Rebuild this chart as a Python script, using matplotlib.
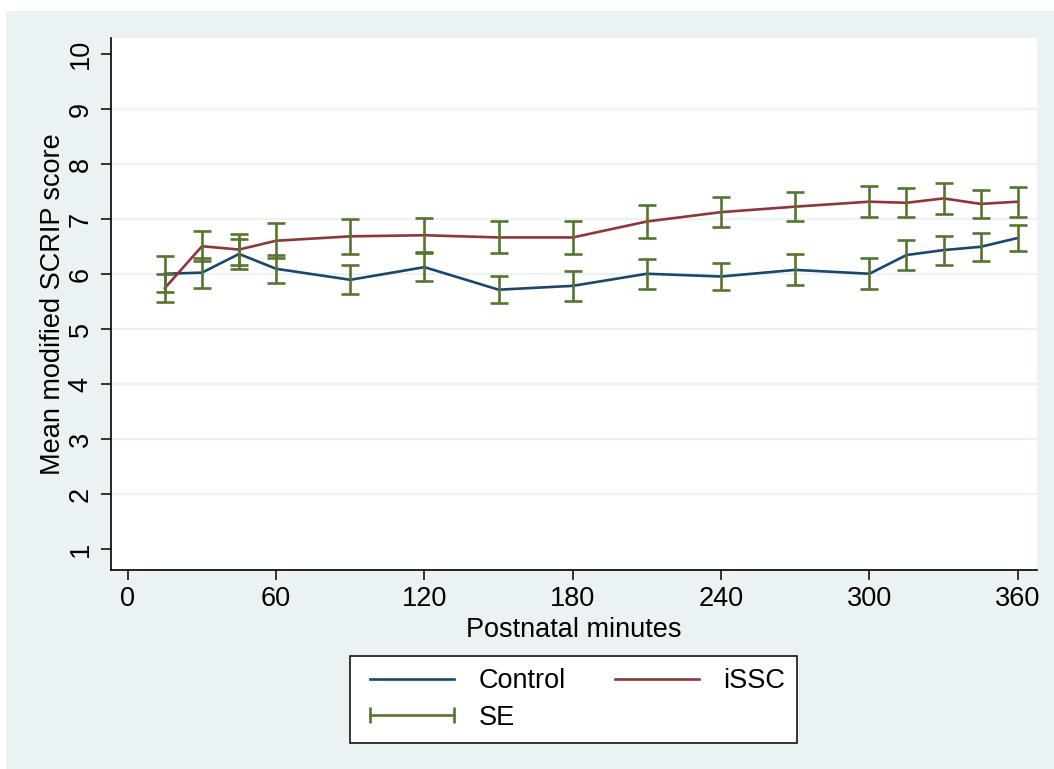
import matplotlib
matplotlib.use("Agg")
import matplotlib.pyplot as plt
from matplotlib.lines import Line2D
from matplotlib.patches import Rectangle

# mean modified SCRIP score per group, with standard errors
minutes = [15, 30, 45, 60, 90, 120, 150, 180, 210, 240, 270, 300, 315, 330, 345, 360]
control = [6.01, 6.03, 6.37, 6.10, 5.90, 6.13, 5.72, 5.79, 6.01, 5.96, 6.08, 6.01, 6.35, 6.44, 6.50, 6.66]
control_se = [0.325, 0.275, 0.275, 0.25, 0.26, 0.255, 0.25, 0.27, 0.27, 0.25, 0.28, 0.28, 0.275, 0.265, 0.255, 0.245]
issc = [5.75, 6.51, 6.45, 6.61, 6.69, 6.71, 6.67, 6.67, 6.96, 7.13, 7.23, 7.32, 7.30, 7.38, 7.28, 7.32]
issc_se = [0.25, 0.275, 0.285, 0.315, 0.315, 0.305, 0.29, 0.295, 0.30, 0.275, 0.265, 0.28, 0.26, 0.285, 0.255, 0.27]

x_ticks = [0, 60, 120, 180, 240, 300, 360]
y_ticks = [1, 2, 3, 4, 5, 6, 7, 8, 9, 10]

navy = "#1a476f"
maroon = "#90353b"
green = "#55752f"
bg = "#eaf2f3"
fs = 19.5

plt.rcParams["font.family"] = ["Liberation Sans", "DejaVu Sans"]

fig = plt.figure(figsize=(10.54, 7.69), dpi=100, facecolor="white")
# stata style graph region, leaves a thin white strip top and left
fig.patches.append(Rectangle((6 / 1054, 0), 1, 1 - 11 / 769, transform=fig.transFigure,
                             facecolor=bg, edgecolor="none", zorder=-10))

ax = fig.add_axes([111 / 1054, 199 / 769, (1037 - 111) / 1054, (570 - 38) / 769])
ax.set_facecolor("white")

for g in y_ticks[1:-1]:
    ax.axhline(g, color=bg, lw=1.6, zorder=0)

ax.plot(minutes, control, color=navy, lw=1.9, zorder=2)
ax.plot(minutes, issc, color=maroon, lw=1.9, zorder=2)
ax.errorbar(minutes, control, yerr=control_se, fmt="none", ecolor=green,
            elinewidth=1.9, capsize=6.5, capthick=1.9, zorder=3)
ax.errorbar(minutes, issc, yerr=issc_se, fmt="none", ecolor=green,
            elinewidth=1.9, capsize=6.5, capthick=1.9, zorder=3)

ax.set_xlim(-6.8, 367.8)
ax.set_ylim(0.624, 10.296)
ax.set_xticks(x_ticks)
ax.set_yticks(y_ticks)
ax.spines["top"].set_visible(False)
ax.spines["right"].set_visible(False)
for s in ("left", "bottom"):
    ax.spines[s].set_linewidth(1.2)
ax.tick_params(axis="both", length=7.5, width=1.1, labelsize=fs, color="black")
ax.tick_params(axis="x", pad=4)
ax.tick_params(axis="y", pad=5)
for lab in ax.get_yticklabels():
    lab.set_rotation(90)
    lab.set_va("center")

ax.set_xlabel("Postnatal minutes", fontsize=fs, labelpad=3.5)
ax.set_ylabel("Mean modified SCRIP score", fontsize=fs, labelpad=1)

handles = [
    Line2D([], [], color=navy, lw=1.9),
    Line2D([], [], color=green, lw=1.9, marker="|", markersize=11, markeredgewidth=1.9),
    Line2D([], [], color=maroon, lw=1.9),
]
labels = ["Control", "SE", "iSSC"]
leg = fig.legend(handles, labels, ncol=2, loc="center",
                 bbox_to_anchor=(573.5 / 1054, 1 - 699.5 / 769),
                 fontsize=fs, numpoints=2, handlelength=3.7, handletextpad=0.6,
                 columnspacing=1.5, labelspacing=0.4, borderpad=0.45,
                 fancybox=False, frameon=True, edgecolor="black", facecolor="white",
                 framealpha=1)
leg.get_frame().set_linewidth(1.1)

fig.savefig("out.png", dpi=100, facecolor=fig.get_facecolor())
